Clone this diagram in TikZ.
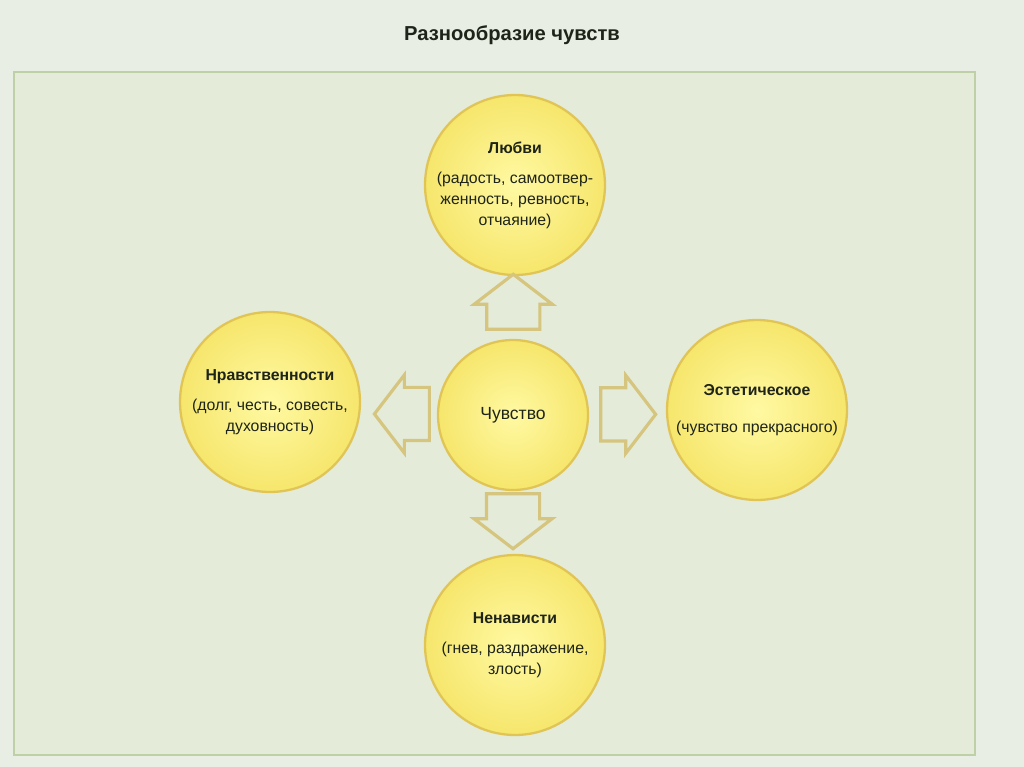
\documentclass[tikz,border=0pt]{standalone}
\usepackage{fontspec}
\setmainfont{Liberation Sans}
\usetikzlibrary{shapes.arrows,calc}
\definecolor{pagebg}{HTML}{E8EEE4}
\definecolor{panelbg}{HTML}{E4EBD8}
\definecolor{panelline}{HTML}{BFD0A6}
\definecolor{ballin}{HTML}{FFF9A2}
\definecolor{ballout}{HTML}{F6E66C}
\definecolor{ballline}{HTML}{E0C556}
\definecolor{arrline}{HTML}{D6C57E}
\definecolor{ink}{HTML}{1E2418}
\begin{document}
\begin{tikzpicture}[x=0.02cm, y=-0.02cm,
  every node/.style = {text=ink, font=\fontsize{9}{12}\selectfont},
  ball/.style = {shape=circle, draw=ballline, line width=1.3pt,
    inner color=ballin, outer color=ballout, inner sep=0pt,
    minimum size=3.6cm, align=center},
  core/.style = {ball, minimum size=3cm, font=\fontsize{10}{12}\selectfont},
  arrowbox/.style = {shape=single arrow, draw=arrline, line width=1.8pt,
    fill=panelbg, inner xsep=0pt, inner ysep=0.5cm, anchor=tail,
    single arrow head extend=0.25cm, single arrow tip angle=105,
    minimum height=1.1cm}]
  % page and panel
  \fill[pagebg] (0,0) rectangle (1024,767);
  \useasboundingbox (0,0) rectangle (1024,767);
  \draw[panelline, line width=1.2pt, fill=panelbg] (14,72) rectangle (975,755);
  \node (title) at (512,35) {\fontsize{11.5}{13}\selectfont\bfseries Разнообразие чувств};

  % circles
  \node[core] (feel) at (513,415) {Чувство};
  \node[ball] (love) at (515,185) {\textbf{Любви}\\[5pt]
    (радость, самоотвер-\\женность, ревность,\\отчаяние)};
  \node[ball] (moral) at (270,402) {\textbf{Нравственности}\\[5pt]
    (долг, честь, совесть,\\духовность)};
  \node[ball] (beauty) at (757,410) {\textbf{Эстетическое}\\[9pt]
    (чувство прекрасного)};
  \node[ball] (hate) at (515,645) {\textbf{Ненависти}\\[5pt]
    (гнев, раздражение,\\злость)};

  % arrows out of the centre
  \node[arrowbox, rotate=90] (toLove) at ($(feel.north)!0.16cm!(love.south)$) {};
  \node[arrowbox, rotate=180] (toMoral) at ($(feel.west)!0.12cm!(moral.east)$) {};
  \node[arrowbox] (toBeauty) at ($(feel.east)!0.2cm!(beauty.west)$) {};
  \node[arrowbox, rotate=-90] (toHate) at ($(feel.south)!0.02cm!(hate.north)$) {};
\end{tikzpicture}
\end{document}
